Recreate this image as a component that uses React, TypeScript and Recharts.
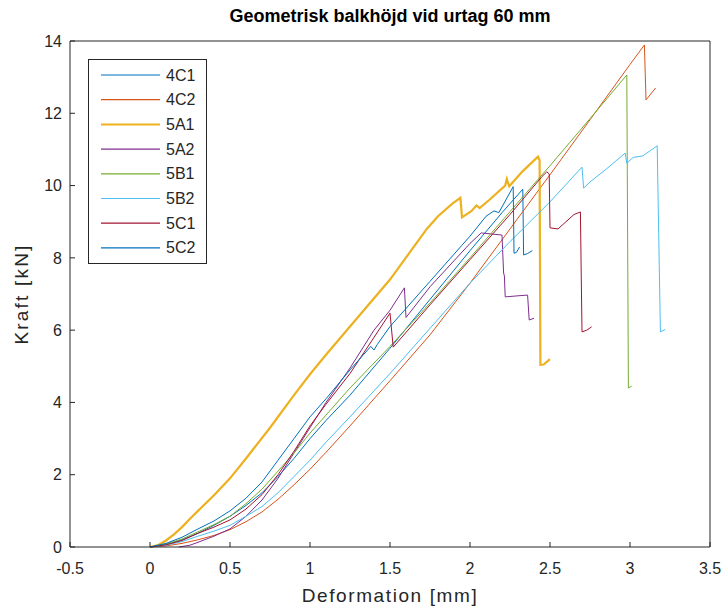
import React from "react";
import { LineChart, Line, XAxis, YAxis, Legend } from "recharts";

type Pt = [number, number];

const seriesNames = ["4C1", "4C2", "5A1", "5A2", "5B1", "5B2", "5C1", "5C2"];
const seriesColors = ["#0072BD", "#D95319", "#EDB120", "#7E2F8E", "#77AC30", "#4DBEEE", "#A2142F", "#0072BD"];
const xTicks = [-0.5, 0, 0.5, 1, 1.5, 2, 2.5, 3, 3.5];
const yTicks = [0, 2, 4, 6, 8, 10, 12, 14];

// deformation [mm], kraft [kN]
const c4C1: Pt[] = [
  [0, 0], [0.1, 0.08], [0.2, 0.2], [0.3, 0.38], [0.4, 0.6], [0.5, 0.85], [0.6, 1.15], [0.7, 1.5],
  [0.8, 1.95], [0.9, 2.45], [1.0, 3.0], [1.1, 3.5], [1.25, 4.2], [1.5, 5.5], [1.75, 6.85], [2.0, 8.2],
  [2.2, 9.25], [2.33, 9.9], [2.335, 8.08], [2.36, 8.12], [2.39, 8.2],
];
const c4C2: Pt[] = [
  [0, 0], [0.1, 0.03], [0.2, 0.1], [0.3, 0.2], [0.4, 0.32], [0.5, 0.48], [0.6, 0.7], [0.7, 0.97],
  [0.8, 1.32], [0.9, 1.72], [1.0, 2.15], [1.1, 2.62], [1.25, 3.35], [1.5, 4.6], [1.75, 5.87], [2.0, 7.3],
  [2.25, 8.8], [2.5, 10.3], [2.75, 11.82], [3.0, 13.35], [3.09, 13.89], [3.1, 12.37], [3.16, 12.7],
];
const c5A1: Pt[] = [
  [0, 0], [0.05, 0.05], [0.1, 0.18], [0.15, 0.35], [0.2, 0.55], [0.25, 0.78], [0.3, 1.0], [0.4, 1.43],
  [0.5, 1.9], [0.6, 2.45], [0.75, 3.3], [0.9, 4.2], [1.0, 4.78], [1.1, 5.32], [1.25, 6.1], [1.5, 7.4],
  [1.73, 8.8], [1.8, 9.15], [1.89, 9.5], [1.94, 9.66], [1.95, 9.12], [2.01, 9.3], [2.04, 9.45],
  [2.06, 9.38], [2.12, 9.6], [2.22, 10.0], [2.23, 10.18], [2.245, 9.98], [2.33, 10.4], [2.425, 10.8],
  [2.435, 10.7], [2.44, 5.04], [2.46, 5.05], [2.5, 5.2],
];
const c5A2: Pt[] = [
  [0.18, 0], [0.25, 0.05], [0.3, 0.13], [0.4, 0.3], [0.5, 0.5], [0.6, 0.85], [0.7, 1.3], [0.8, 1.9],
  [0.9, 2.6], [1.0, 3.3], [1.1, 4.0], [1.25, 4.95], [1.4, 6.0], [1.5, 6.55], [1.59, 7.17], [1.6, 6.35],
  [1.75, 7.2], [2.0, 8.4], [2.07, 8.69], [2.2, 8.63], [2.21, 7.58], [2.215, 7.5], [2.22, 6.92],
  [2.3, 6.95], [2.36, 6.97], [2.37, 6.28], [2.4, 6.33],
];
const c5B1: Pt[] = [
  [0, 0], [0.1, 0.08], [0.2, 0.22], [0.3, 0.42], [0.4, 0.62], [0.5, 0.85], [0.6, 1.2], [0.7, 1.6],
  [0.8, 2.1], [0.9, 2.6], [1.0, 3.15], [1.1, 3.65], [1.25, 4.4], [1.5, 5.55], [1.75, 6.75], [2.0, 8.0],
  [2.25, 9.28], [2.5, 10.55], [2.75, 11.85], [2.98, 13.06], [2.99, 4.4], [3.01, 4.45],
];
const c5B2: Pt[] = [
  [0, 0], [0.1, 0.05], [0.2, 0.15], [0.3, 0.3], [0.4, 0.44], [0.5, 0.6], [0.6, 0.85], [0.7, 1.12],
  [0.8, 1.5], [0.9, 1.95], [1.0, 2.4], [1.1, 2.9], [1.25, 3.6], [1.5, 4.8], [1.75, 6.05], [2.0, 7.3],
  [2.25, 8.45], [2.5, 9.55], [2.7, 10.51], [2.71, 9.93], [2.75, 10.1], [2.85, 10.45], [2.97, 10.9],
  [2.98, 10.62], [3.02, 10.78], [3.08, 10.82], [3.17, 11.1], [3.19, 5.95], [3.22, 6.02],
];
const c5C1: Pt[] = [
  [0, 0], [0.1, 0.06], [0.2, 0.18], [0.3, 0.38], [0.4, 0.55], [0.5, 0.75], [0.6, 1.05], [0.7, 1.45],
  [0.8, 2.0], [0.9, 2.65], [1.0, 3.35], [1.1, 3.95], [1.25, 4.8], [1.4, 5.8], [1.5, 6.47], [1.52, 5.53],
  [1.75, 6.7], [2.0, 7.95], [2.25, 9.2], [2.45, 10.25], [2.48, 10.38], [2.495, 10.32], [2.5, 8.83],
  [2.55, 8.8], [2.6, 9.0], [2.65, 9.2], [2.69, 9.27], [2.7, 5.95], [2.73, 6.0], [2.76, 6.09],
];
const c5C2: Pt[] = [
  [0, 0], [0.1, 0.1], [0.2, 0.27], [0.3, 0.5], [0.4, 0.72], [0.5, 1.0], [0.6, 1.35], [0.7, 1.8],
  [0.8, 2.4], [0.9, 3.0], [1.0, 3.6], [1.1, 4.1], [1.25, 4.9], [1.38, 5.55], [1.4, 5.45], [1.42, 5.6],
  [1.5, 6.1], [1.75, 7.35], [2.0, 8.6], [2.1, 9.15], [2.15, 9.3], [2.18, 9.25], [2.27, 9.97],
  [2.275, 8.13], [2.29, 8.15], [2.31, 8.3],
];

const curves = [c4C1, c4C2, c5A1, c5A2, c5B1, c5B2, c5C1, c5C2];

const font = "'Liberation Sans', Arial, sans-serif";
const ink = "#262626";
const tickStyle = { fontSize: 16, fill: ink, fontFamily: font };

function LegendBox() {
  return (
    <svg width={120} height={206} style={{ display: "block" }}>
      <rect x={0.5} y={0.5} width={118} height={204} fill="#fff" stroke={ink} strokeWidth={1} />
      {seriesNames.map((name, i) => {
        const cy = 16 + i * 24.7;
        return (
          <g key={name}>
            <line x1={13} x2={72} y1={cy} y2={cy} stroke={seriesColors[i]} strokeWidth={i === 2 ? 2 : 1.2} />
            <text x={78} y={cy + 5.5} fontSize={16} fill={ink} fontFamily={font}>
              {name}
            </text>
          </g>
        );
      })}
    </svg>
  );
}

export default function App() {
  return (
    <div style={{ position: "absolute", left: 0, top: 0, width: 726, height: 615, background: "#fff", fontFamily: font }}>
      <LineChart width={726} height={615} margin={{ top: 40, right: 15, bottom: 0, left: 0 }}>
        <XAxis
          dataKey="x"
          type="number"
          domain={[-0.5, 3.5]}
          ticks={xTicks}
          interval={0}
          height={68}
          tickSize={-5}
          tickMargin={21}
          stroke={ink}
          tick={tickStyle}
          allowDuplicatedCategory={false}
        />
        <XAxis
          xAxisId="top"
          orientation="top"
          dataKey="x"
          type="number"
          domain={[-0.5, 3.5]}
          ticks={xTicks}
          interval={0}
          height={1}
          tickSize={-5}
          stroke={ink}
          tick={false}
        />
        <YAxis
          type="number"
          domain={[0, 14]}
          ticks={yTicks}
          interval={0}
          width={70}
          tickSize={-5}
          tickMargin={13}
          stroke={ink}
          tick={tickStyle}
        />
        <YAxis
          yAxisId="right"
          orientation="right"
          type="number"
          domain={[0, 14]}
          ticks={yTicks}
          interval={0}
          width={1}
          tickSize={-5}
          stroke={ink}
          tick={false}
        />
        <Legend
          layout="vertical"
          align="center"
          verticalAlign="middle"
          wrapperStyle={{ left: 88, top: 59, width: 120, height: 206 }}
          content={() => <LegendBox />}
        />
        {curves.map((pts, i) => (
          <Line
            key={seriesNames[i]}
            name={seriesNames[i]}
            data={pts.map(([x, y]) => ({ x, y }))}
            dataKey="y"
            stroke={seriesColors[i]}
            strokeWidth={i === 2 ? 2.2 : 1}
            dot={false}
            activeDot={false}
            isAnimationActive={false}
          />
        ))}
      </LineChart>
      <div
        style={{
          position: "absolute",
          left: 70,
          width: 640,
          top: 6,
          textAlign: "center",
          fontSize: 18,
          fontWeight: "bold",
          color: "#000",
        }}
      >
        Geometrisk balkhöjd vid urtag 60 mm
      </div>
      <div
        style={{
          position: "absolute",
          left: 70,
          width: 640,
          top: 585,
          textAlign: "center",
          fontSize: 19,
          letterSpacing: 1.6,
          color: ink,
        }}
      >
        Deformation [mm]
      </div>
      <div
        style={{
          position: "absolute",
          left: 22 - 100,
          top: 294 - 12,
          width: 200,
          height: 24,
          lineHeight: "24px",
          textAlign: "center",
          fontSize: 19,
          letterSpacing: 2.2,
          color: ink,
          transform: "rotate(-90deg)",
        }}
      >
        Kraft [kN]
      </div>
    </div>
  );
}
